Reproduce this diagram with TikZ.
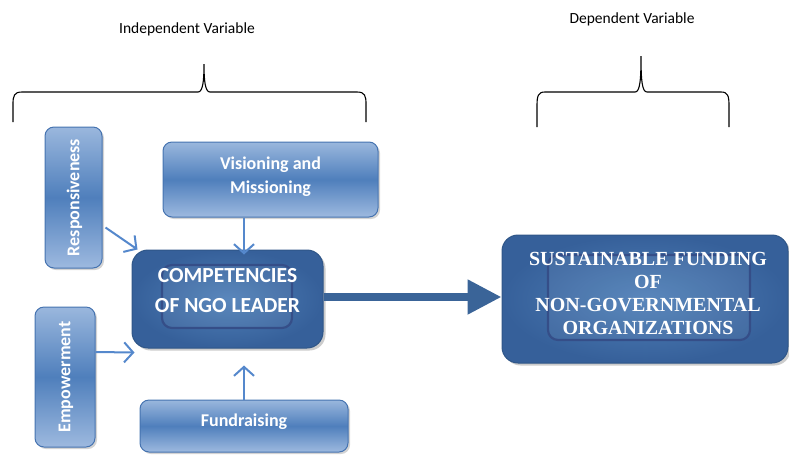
\documentclass[tikz,border=0pt]{standalone}
\usepackage{fontspec}
\setmainfont{Carlito}
\newfontfamily\timesf{Liberation Serif}
\usetikzlibrary{arrows.meta,shadows,calc}
\definecolor{lbTop}{HTML}{9AB7DD}
\definecolor{lbMid}{HTML}{4F7FBC}
\definecolor{lbBot}{HTML}{9DB9DF}
\definecolor{lbEdge}{HTML}{4573B0}
\definecolor{dbIn}{HTML}{5080B8}
\definecolor{dbOut}{HTML}{36609A}
\definecolor{dbEdge}{HTML}{2F5688}
\definecolor{dbLine}{HTML}{354E88}
\definecolor{arrowBlue}{HTML}{5588CC}
\definecolor{bigArrow}{HTML}{3A6498}
\tikzset{
  lightbox/.style={draw=lbEdge, line width=1pt, rounded corners=9pt,
    top color=lbTop, bottom color=lbBot, middle color=lbMid,
    drop shadow={opacity=0.35, shadow xshift=2pt, shadow yshift=-2pt},
    inner sep=0pt},
  lighttext/.style={text=white, font=\bfseries\fontsize{18}{24}\selectfont, align=center, inner sep=0pt},
  darkbox/.style={draw=dbEdge, line width=1pt, rounded corners=16pt,
    inner color=dbIn, outer color=dbOut,
    drop shadow={opacity=0.4, shadow xshift=2.5pt, shadow yshift=-2.5pt}, inner sep=0pt},
  innerbox/.style={draw=dbLine, line width=2.2pt, rounded corners=10pt, inner sep=0pt,
    fill=white, fill opacity=0.06},
  thinarrow/.style={draw=arrowBlue, line width=2pt, -{Straight Barb[length=9pt,width=20pt,line width=2pt]}},
  brace/.style={draw=black, line width=1.1pt},
  caption/.style={font=\fontsize{15.5}{18}\selectfont, text=black, anchor=base, inner sep=0pt}
}
\begin{document}
\begin{tikzpicture}[x=1pt,y=-1pt]
\useasboundingbox (0,0) rectangle (789,456);
% captions
\node[caption] (indep) at (187,33) {Independent Variable};
\node[caption] (dep) at (632,23) {Dependent Variable};
% braces
\draw[brace] (13,122) -- (13,104) .. controls (13,96) and (14,92) .. (22,92) -- (198,92)
  .. controls (203,92) and (204,80) .. (204,64)
  .. controls (204,80) and (205,92) .. (210,92) -- (357,92)
  .. controls (365,92) and (366,96) .. (366,104) -- (366,122);
\draw[brace] (537,127) -- (537,106) .. controls (537,96) and (538,92) .. (545,92) -- (635,92)
  .. controls (640,92) and (641,80) .. (641,56)
  .. controls (641,80) and (642,92) .. (647,92) -- (721,92)
  .. controls (728,92) and (729,96) .. (729,106) -- (729,127);
% light boxes
\node[lightbox, minimum width=57pt, minimum height=141pt] (resp) at (73.5,197.5) {};
\node[lighttext, rotate=90] (resptxt) at ($(resp.center)+(1,0)$) {Responsiveness};
\node[lightbox, minimum width=60pt, minimum height=140pt] (emp) at (65,377) {};
\node[lighttext, rotate=90] (emptxt) at ($(emp.center)+(1,0)$) {Empowerment};
\node[lightbox, minimum width=215pt, minimum height=75pt] (vis) at (270.5,179.5) {};
\node[lighttext] (vistxt) at ($(vis.center)+(0,-2.5)$) {Visioning and\\Missioning};
\node[lightbox, minimum width=208pt, minimum height=52pt] (fund) at (244,426) {};
\node[lighttext] (fundtxt) at ($(fund.center)+(0,-4)$) {Fundraising};
% dark boxes
\node[darkbox, minimum width=191pt, minimum height=98pt] (comp) at (227.5,299) {};
\node[innerbox, minimum width=130pt, minimum height=63pt] (compin) at (227,296.5) {};
\node[text=white, font=\bfseries\fontsize{21.5}{30}\selectfont, align=center] (comptxt) at ($(comp.center)+(0,-8)$) {COMPETENCIES\\OF NGO LEADER};
\node[darkbox, minimum width=286pt, minimum height=128pt] (sust) at (645,299) {};
\node[innerbox, minimum width=202pt, minimum height=85pt] (sustin) at (649,297.5) {};
\node[text=white, font=\timesf\bfseries\fontsize{20}{23}\selectfont, align=center] (susttxt) at ($(sust.center)+(3,-5.5)$) {SUSTAINABLE FUNDING\\OF\\NON-GOVERNMENTAL\\ORGANIZATIONS};
% connectors
\draw[thinarrow] ($(resp.east)+(3,30)$) -- ($(comp.north west)+(6,0)$);
\draw[thinarrow] (vis.south -| fund.north) -- ($(comp.north -| fund.north)+(0,5)$);
\draw[thinarrow] ($(emp.east)+(0,-25)$) -- ($(comp.south west)+(3,4)$);
\draw[thinarrow] (fund.north) -- ($(comp.south -| fund.north)+(0,17)$);
\draw[draw=bigArrow, line width=8pt, -{Triangle[length=34pt,width=33pt]}] (comp.east |- 0,297) -- (sust.west |- 0,297);
\end{tikzpicture}
\end{document}
